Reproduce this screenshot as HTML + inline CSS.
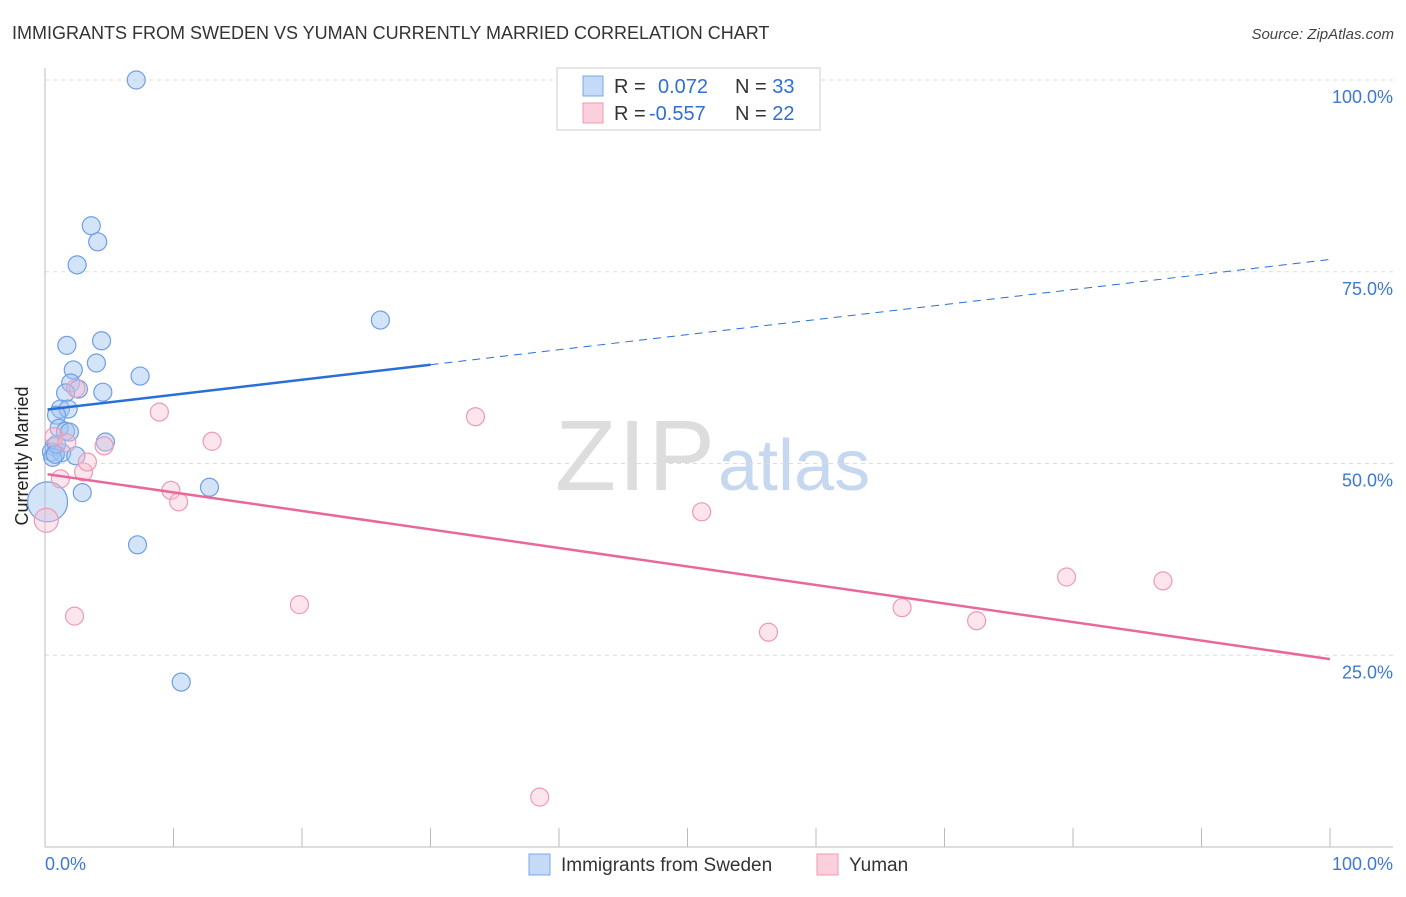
<!DOCTYPE html>
<html><head><meta charset="utf-8"><style>
body{margin:0;background:#fff;font-family:"Liberation Sans",sans-serif;}
svg text{font-family:"Liberation Sans",sans-serif;}
</style></head><body>
<svg id="c" width="1406" height="892" xmlns="http://www.w3.org/2000/svg">
<text x="12" y="39" font-size="18" fill="#333">IMMIGRANTS FROM SWEDEN VS YUMAN CURRENTLY MARRIED CORRELATION CHART</text>
<text x="1394" y="39" font-size="15" fill="#444" text-anchor="end" font-style="italic">Source: ZipAtlas.com</text>
<text x="555" y="490" font-size="100" fill="#ddd" textLength="160" font-family="Liberation Serif">ZIP</text>
<text x="718" y="490" font-size="72" fill="#c5d8f0">atlas</text>
<g id="grid"></g>
<line x1="45" y1="68" x2="45" y2="847" stroke="#bbb"/>
<line x1="45" y1="847" x2="1393" y2="847" stroke="#bbb"/>
<text x="34" y="456" font-size="18" fill="#222" text-anchor="middle" transform="rotate(-90 34 456)" dy="-6">Currently Married</text>
<text x="45" y="870" font-size="18" fill="#3b78d8">0.0%</text>
<text x="1393" y="870" font-size="18" fill="#3b78d8" text-anchor="end">100.0%</text>
<g id="pts"></g>
<g id="trend"></g>
<g>
<rect x="557" y="68" width="263" height="62" fill="#fff" stroke="#ccc"/>
<rect x="583" y="76" width="20" height="20" fill="#c5daf6" stroke="#7aa7e6"/>
<rect x="583" y="103" width="20" height="20" fill="#fbd0dc" stroke="#ee9ab3"/>
<text x="614" y="93" font-size="20" fill="#333">R = <tspan fill="#2f6fd6" x="658">0.072</tspan><tspan x="735" fill="#333">N = </tspan><tspan fill="#2f6fd6">33</tspan></text>
<text x="614" y="120" font-size="20" fill="#333">R = <tspan fill="#2f6fd6" x="649">-0.557</tspan><tspan x="735" fill="#333">N = </tspan><tspan fill="#2f6fd6">22</tspan></text>
</g>
<g>
<rect x="529" y="854" width="21" height="21" fill="#c5daf6" stroke="#7aa7e6"/>
<text x="561" y="871" font-size="19" fill="#333">Immigrants from Sweden</text>
<rect x="817" y="854" width="21" height="21" fill="#fbd0dc" stroke="#ee9ab3"/>
<text x="849" y="871" font-size="19" fill="#333">Yuman</text>
</g>
</svg>
<script>
const blueX=[7.1,3.6,4.1,2.5,26.1,1.7,4.4,4.0,2.2,7.4,2.0,2.6,4.5,1.6,1.2,1.8,0.9,1.1,1.6,1.9,4.7,0.7,0.5,1.3,0.6,2.4,2.9,12.8,0.2,7.2,10.6,0.9,0.8];
const blueY=[100,81,78.9,75.9,68.7,65.4,66,63.1,62.2,61.4,60.5,59.7,59.3,59.2,57.1,57.1,56.3,54.6,54.2,54.1,52.8,52.2,51.5,51.4,50.8,51,46.2,46.9,45,39.4,21.5,52.5,51.2];
const blueR=[9,9,9,9,9,9,9,9,9,9,9,9,9,9,9,9,9,9,9,9,9,9,9,9,9,9,9,9,20,9,9,9,9];
const pinkX=[0.1,1.2,0.7,1.7,3.0,3.3,4.6,2.4,8.9,13.0,9.8,10.4,2.3,19.8,33.5,38.5,51.1,56.3,66.7,72.5,79.5,87.0];
const pinkY=[42.6,48,53.5,52.7,48.9,50.2,52.3,59.8,56.7,52.9,46.5,45,30.1,31.6,56.1,6.5,43.7,28,31.2,29.5,35.2,34.7];
const pinkR=[12,9,9,9,9,9,9,9,9,9,9,9,9,9,9,9,9,9,9,9,9,9];
const yTicks=[100,75,50,25];
const yTickLabels=["100.0%","75.0%","50.0%","25.0%"];
const blueTrend=[57.0,76.6];const blueSolidEnd=30;
const pinkTrend=[48.6,24.5];
const NS="http://www.w3.org/2000/svg";
const sx=v=>45+v*12.85, sy=v=>847-v*7.67;
function mk(t,a,p){const e=document.createElementNS(NS,t);for(const k in a)e.setAttribute(k,a[k]);p.appendChild(e);return e;}
const g=document.getElementById('grid');
yTicks.forEach((t,i)=>{
 const l=mk('line',{x1:45,x2:1393,y1:sy(t),y2:sy(t),stroke:'#ddd','stroke-dasharray':'4,4'},g);
 
 
 const tx=mk('text',{x:1393,y:sy(t)+23,'font-size':18,fill:'#3b78d8','text-anchor':'end'},g);
 tx.textContent=yTickLabels[i];
 
 
});
for(let i=1;i<=10;i++){
 const l=mk('line',{x1:sx(i*10),x2:sx(i*10),y1:828,y2:847,stroke:'#bbb'},g);
 
 
}
const p=document.getElementById('pts');
blueX.forEach((x,i)=>{
 const c=mk('circle',{cx:sx(x),cy:sy(blueY[i]),r:blueR[i],fill:'rgba(160,195,240,0.45)',stroke:'#6d9ee6','stroke-width':1.2},p);
 
 
});
pinkX.forEach((x,i)=>{
 const c=mk('circle',{cx:sx(x),cy:sy(pinkY[i]),r:pinkR[i],fill:'rgba(248,190,208,0.4)',stroke:'#ef9ab4','stroke-width':1.2},p);
 
 
});
const tr=document.getElementById('trend');
const bAt=x=>blueTrend[0]+(blueTrend[1]-blueTrend[0])*x/100;
let l1=mk('line',{x1:sx(0.2),y1:sy(bAt(0.2)),x2:sx(blueSolidEnd),y2:sy(bAt(blueSolidEnd)),stroke:'#2a6fd6','stroke-width':2.5},tr);


let l2=mk('line',{x1:sx(blueSolidEnd),y1:sy(bAt(blueSolidEnd)),x2:sx(100),y2:sy(bAt(100)),stroke:'#2a6fd6','stroke-width':1,'stroke-dasharray':'8,6'},tr);


let l3=mk('line',{x1:sx(0.2),y1:sy(pinkTrend[0]),x2:sx(100),y2:sy(pinkTrend[1]),stroke:'#e8689a','stroke-width':2.5},tr);


</script>
</body></html>
